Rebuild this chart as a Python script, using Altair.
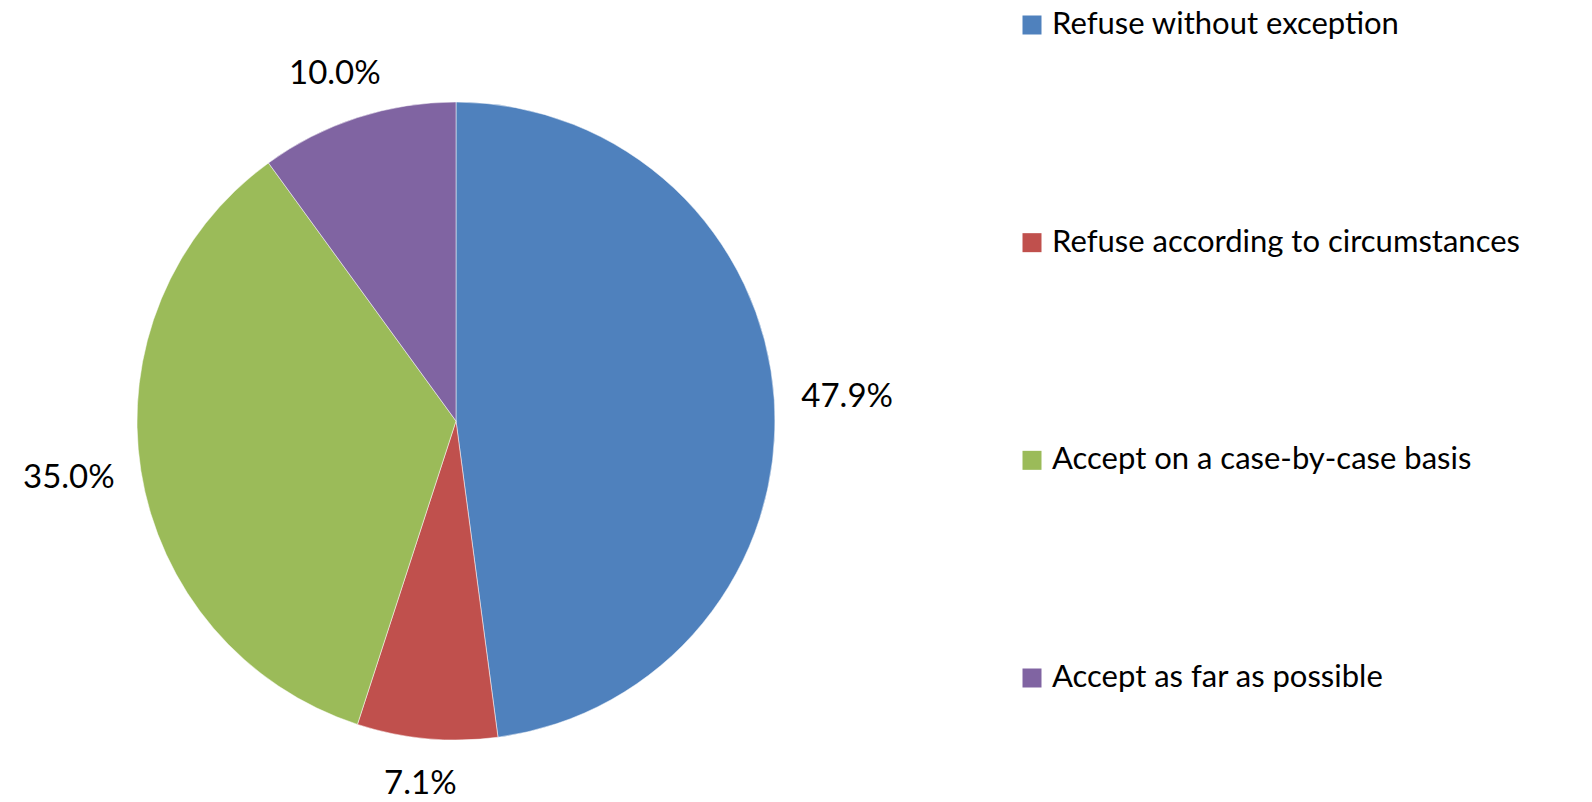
import altair as alt
import pandas as pd

categories = ["Refuse without exception", "Refuse according to circumstances",
              "Accept on a case-by-case basis", "Accept as far as possible"]
values = [47.9, 7.1, 35.0, 10.0]
labels = ["47.9%", "7.1%", "35.0%", "10.0%"]
colors = ["#4F81BD", "#C0504D", "#9BBB59", "#8064A2"]

df = pd.DataFrame({"cat": categories, "val": values, "lab": labels,
                   "order": list(range(len(categories)))})

FONT = "Lato"
CX, CY, R = 448, 413, 319
RX, RY = 392, 365  # label ellipse (text wider than tall)

color = alt.Color("cat:N", scale=alt.Scale(domain=categories, range=colors), legend=None)

base = alt.Chart(df)

pie = base.mark_arc(stroke="white", strokeWidth=0.5).encode(
    theta=alt.Theta("val:Q", stack=True),
    order=alt.Order("order:Q"),
    color=color,
    x=alt.value(CX), y=alt.value(CY),
    radius=alt.value(R),
)

text = base.transform_window(
    cum="sum(val)", sort=[alt.SortField("order")], frame=[None, 0]
).transform_joinaggregate(
    tot="sum(val)"
).transform_calculate(
    ang="2*PI*(datum.cum - datum.val/2)/datum.tot",
).transform_calculate(
    lx=f"{CX} + {RX}*sin(datum.ang)",
    ly=f"{CY} - {RY}*cos(datum.ang)",
).mark_text(font=FONT, fontSize=33, color="black", align="center", baseline="middle").encode(
    x=alt.X("lx:Q", scale=None, axis=None),
    y=alt.Y("ly:Q", scale=None, axis=None),
    text="lab:N",
)

ypos = alt.Y("cat:N", scale=alt.Scale(domain=categories, range=[17, 670], padding=0), axis=None)

leg_sym = base.mark_square(size=361, opacity=1).encode(
    x=alt.value(1024), y=ypos, color=color,
)
leg_txt = base.mark_text(font=FONT, fontSize=31, color="black", align="left", baseline="middle").encode(
    x=alt.value(1044), y=ypos, text="cat:N",
)

chart = alt.layer(pie, text, leg_sym, leg_txt).resolve_scale(y="independent").properties(
    width=1576, height=786, padding=0
).configure(background="white").configure_view(stroke=None, strokeWidth=0)

chart.save("out.html", embed_options={"renderer": "svg", "actions": False})
